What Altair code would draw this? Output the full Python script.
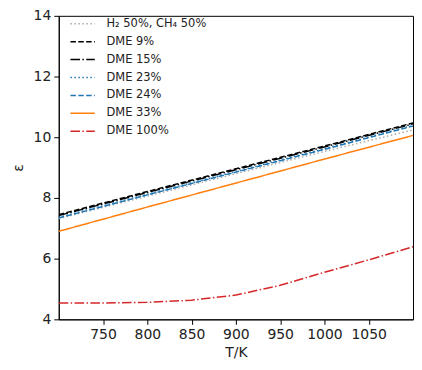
import altair as alt
import pandas as pd

temps = [700, 800, 900, 1000, 1100]
temps_red = [700, 750, 800, 850, 900, 950, 1000, 1050, 1100]

series_names = ["H₂ 50%, CH₄ 50%", "DME 9%", "DME 15%", "DME 23%", "DME 24%", "DME 33%", "DME 100%"]
h2ch4 = [7.32, 8.06, 8.80, 9.53, 10.24]
dme9 = [7.45, 8.21, 8.96, 9.71, 10.47]
dme15 = [7.42, 8.18, 8.93, 9.68, 10.44]
dme23 = [7.36, 8.12, 8.87, 9.62, 10.39]
dme24 = [7.34, 8.10, 8.85, 9.60, 10.37]
dme33 = [6.90, 7.70, 8.49, 9.28, 10.06]
dme100 = [4.54, 4.54, 4.56, 4.63, 4.80, 5.12, 5.55, 5.96, 6.39]

colors = ["#aaaaaa", "#000000", "#000000", "#1f77b4", "#1f77b4", "#ff7f0e", "#d62728"]
dashes = [[1.5, 2.5], [5.5, 2.4], [9.6, 2.4, 1.5, 2.4], [1.5, 2.5], [5.5, 2.4], [1, 0], [9.6, 2.4, 1.5, 2.4]]

rows = []
for name, vals in zip(series_names[:6], [h2ch4, dme9, dme15, dme23, dme24, dme33]):
    for t, v in zip(temps, vals):
        rows.append({"T": t, "eps": v, "series": name})
for t, v in zip(temps_red, dme100):
    rows.append({"T": t, "eps": v, "series": series_names[6]})
df = pd.DataFrame(rows)

chart = alt.Chart(df).mark_line(strokeWidth=1.5, clip=True).encode(
    x=alt.X("T:Q", title="T/K",
            scale=alt.Scale(domain=[700, 1100], nice=False, zero=False),
            axis=alt.Axis(values=[750, 800, 850, 900, 950, 1000, 1050], grid=False, format="d")),
    y=alt.Y("eps:Q", title="ε",
            scale=alt.Scale(domain=[4, 14], nice=False, zero=False),
            axis=alt.Axis(values=[4, 6, 8, 10, 12, 14], grid=False, format="d", titlePadding=8)),
    color=alt.Color("series:N", sort=series_names,
                    scale=alt.Scale(domain=series_names, range=colors),
                    legend=alt.Legend(title=None, orient="none", legendX=11, legendY=1,
                                      symbolType="stroke", symbolStrokeWidth=1.5,
                                      symbolSize=600, labelFontSize=11.5, rowPadding=4,
                                      clipHeight=14, labelOffset=11,
                                      labelFont="DejaVu Sans", labelColor="#222222")),
    strokeDash=alt.StrokeDash("series:N", sort=series_names,
                              scale=alt.Scale(domain=series_names, range=dashes),
                              legend=None),
    detail="series:N",
).properties(
    width=356, height=305,
    autosize=alt.AutoSizeParams(type="none"),
    padding={"left": 51, "top": 7, "right": 1, "bottom": 40},
).configure_view(
    stroke="#000000", strokeWidth=1
).configure_axis(
    labelFont="DejaVu Sans", titleFont="DejaVu Sans",
    labelFontSize=14, titleFontSize=14, titleFontWeight="normal",
    labelColor="#222222", titleColor="#222222",
    domainColor="#000000", tickColor="#000000", tickSize=5,
    labelPadding=3,
)

chart.save("out.html", embed_options={"renderer": "svg", "actions": False})
